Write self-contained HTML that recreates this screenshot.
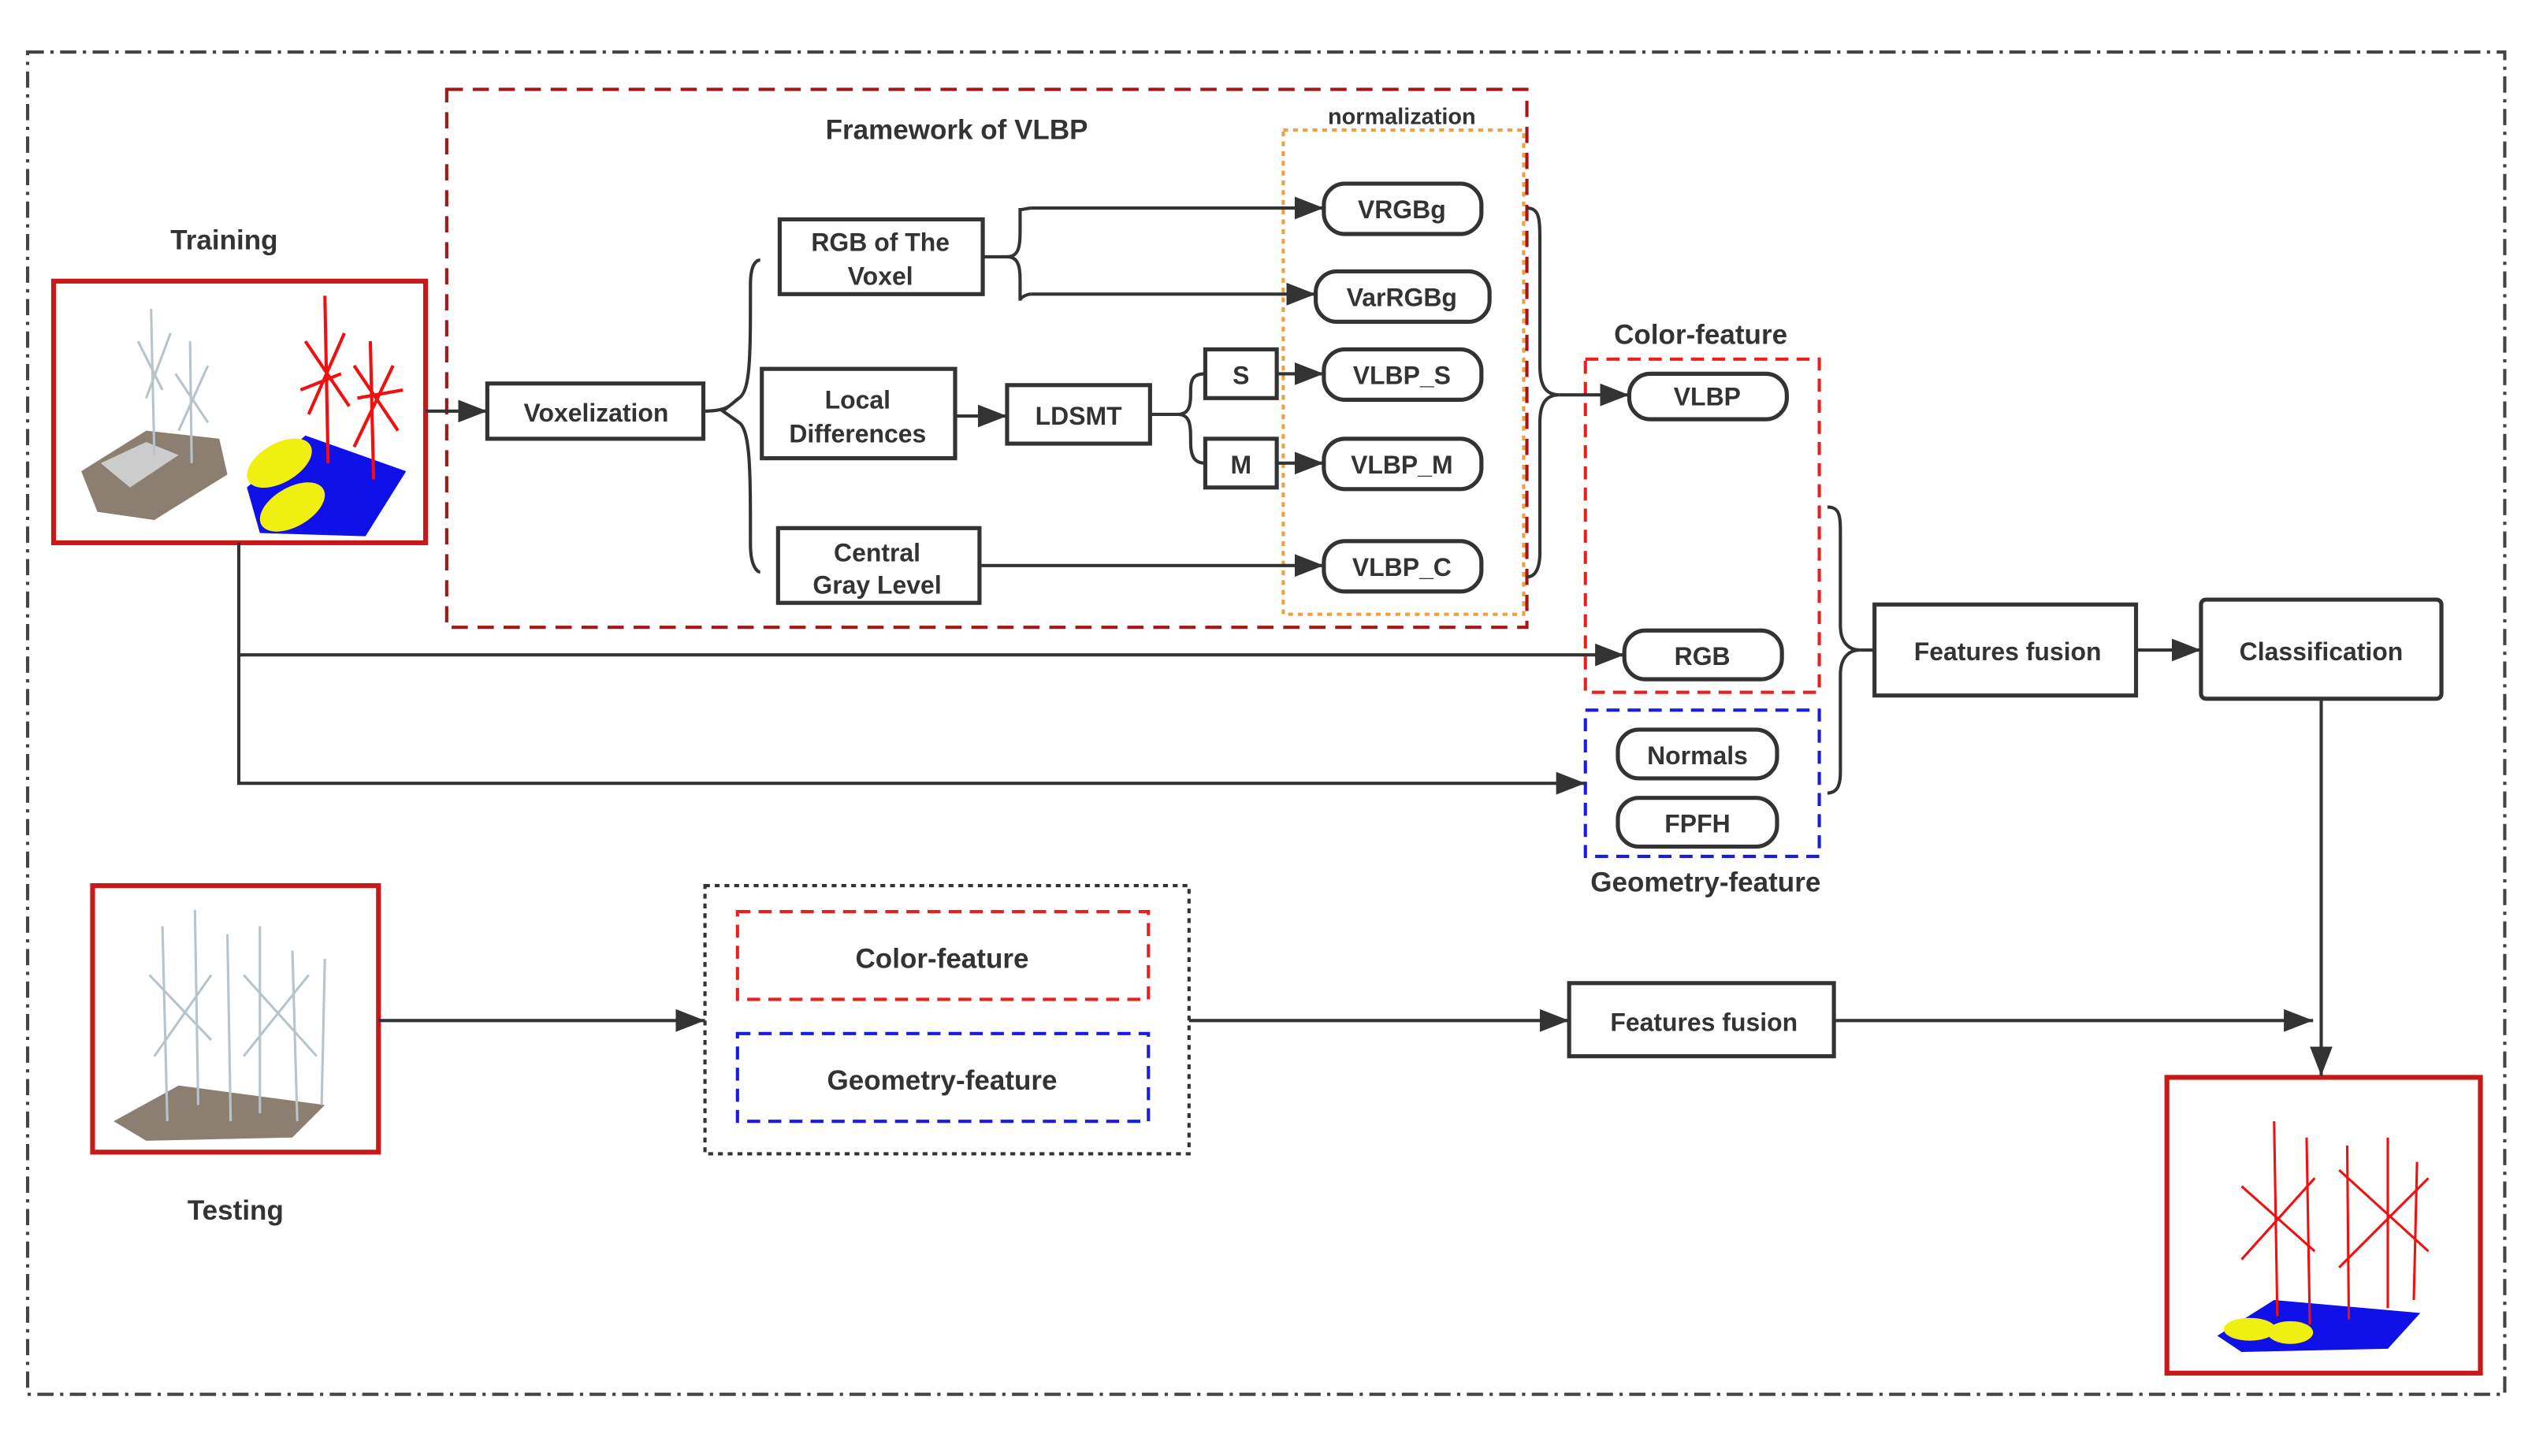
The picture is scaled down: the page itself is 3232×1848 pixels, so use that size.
<!DOCTYPE html>
<html><head><meta charset="utf-8"><style>
html,body{margin:0;padding:0;background:#fff}
svg{display:block}
text{font-family:"Liberation Sans","DejaVu Sans",sans-serif;font-weight:bold;fill:#333;text-anchor:middle;dominant-baseline:central}
</style></head><body>
<svg width="3232" height="1848" viewBox="0 0 1568 896" preserveAspectRatio="none" xmlns="http://www.w3.org/2000/svg">
<defs>
<marker id="b" markerWidth="18" markerHeight="14" refX="18" refY="7" orient="auto" markerUnits="userSpaceOnUse"><path d="M0,0 L18,7 L0,14 z" fill="#333"/></marker>
</defs>
<g fill="none" stroke-width="2">
<rect x="17" y="32" width="1525" height="826" stroke="#444" stroke-dasharray="10,4,2,4"/>
<rect x="275" y="55" width="665" height="331" stroke="#a01818" stroke-dasharray="10,6"/>
<rect x="790" y="80" width="148" height="298" stroke="#f0a040" stroke-dasharray="3,3"/>
<rect x="976" y="221" width="144" height="205" stroke="#e82020" stroke-dasharray="8,5"/>
<rect x="976" y="437" width="144" height="90" stroke="#1a1ae0" stroke-dasharray="8,5"/>
<rect x="434" y="545" width="298" height="165" stroke="#333" stroke-dasharray="3,3"/>
<rect x="454" y="561" width="253" height="54" stroke="#e82020" stroke-dasharray="8,5"/>
<rect x="454" y="636" width="253" height="54" stroke="#1a1ae0" stroke-dasharray="8,5"/>
</g>
<g fill="#fff" stroke-width="3" stroke="#c81818">
<rect x="33" y="173" width="229" height="161"/>
<rect x="57" y="545" width="176" height="164"/>
<rect x="1334" y="663" width="193" height="182"/>
</g>
<g>
<path d="M50,290 L90,265 L135,270 L140,292 L95,320 L60,315 z" fill="#8a7f70"/>
<path d="M62,285 L90,272 L110,280 L80,300 z" fill="#ccc"/>
<g stroke="#b8c4cc" stroke-width="1.5" fill="none"><path d="M93,190 L95,280 M85,210 L100,240 M105,205 L90,245 M117,210 L118,285 M108,230 L128,260 M128,225 L110,265"/></g>
<path d="M152,300 L188,268 L250,290 L225,330 L160,328 z" fill="#1010e8"/>
<ellipse cx="172" cy="285" rx="22" ry="12" fill="#f0f010" transform="rotate(-30 172 285)"/>
<ellipse cx="180" cy="312" rx="22" ry="12" fill="#f0f010" transform="rotate(-30 180 312)"/>
<g stroke="#f01010" stroke-width="2" fill="none"><path d="M200,182 L202,285 M188,210 L215,250 M212,205 L190,255 M228,210 L230,295 M218,225 L245,265 M242,225 L218,275 M185,240 L210,230 M220,245 L248,240"/></g>
<path d="M70,690 L110,668 L200,680 L180,700 L90,702 z" fill="#8a7f70"/>
<g stroke="#b8c4cc" stroke-width="1.5" fill="none"><path d="M100,570 L103,690 M120,560 L122,680 M140,575 L142,690 M160,570 L160,685 M180,585 L183,690 M200,590 L198,680 M92,600 L130,640 M130,600 L95,650 M150,600 L195,650 M190,600 L150,650"/></g>
<path d="M1365,822 L1400,800 L1490,808 L1470,830 L1380,832 z" fill="#1010e8"/>
<ellipse cx="1385" cy="818" rx="16" ry="7" fill="#f0f010"/><ellipse cx="1410" cy="820" rx="14" ry="7" fill="#f0f010"/>
<g stroke="#f01010" stroke-width="1.5" fill="none"><path d="M1400,690 L1402,810 M1420,700 L1422,815 M1445,705 L1446,812 M1470,700 L1470,805 M1488,715 L1486,800 M1380,730 L1425,770 M1425,725 L1380,775 M1440,720 L1495,770 M1495,725 L1440,780"/></g>
</g>
<g fill="#fff" stroke="#333" stroke-width="2.5">
<rect x="300" y="236" width="133" height="34"/>
<rect x="480" y="135" width="125" height="46"/>
<rect x="469" y="227" width="119" height="55"/>
<rect x="479" y="325" width="124" height="46"/>
<rect x="620" y="237" width="88" height="36"/>
<rect x="742" y="215" width="44" height="30"/>
<rect x="742" y="270" width="44" height="30"/>
<rect x="815" y="113" width="97" height="31" rx="13"/>
<rect x="810" y="167" width="107" height="31" rx="13"/>
<rect x="815" y="215" width="97" height="31" rx="13"/>
<rect x="815" y="270" width="97" height="31" rx="13"/>
<rect x="815" y="333" width="97" height="31" rx="13"/>
<rect x="1003" y="230" width="97" height="28" rx="13"/>
<rect x="1000" y="388" width="97" height="30" rx="13"/>
<rect x="996" y="449" width="98" height="30" rx="13"/>
<rect x="996" y="491" width="98" height="30" rx="13"/>
<rect x="1154" y="372" width="161" height="56"/>
<rect x="1355" y="369" width="148" height="61" rx="3"/>
<rect x="966" y="605" width="163" height="45"/>
</g>
<g fill="none" stroke="#333" stroke-width="2">
<path d="M262,253 L300,253" marker-end="url(#b)"/>
<path d="M433,253 C450,253 450,248 455,245 C462,240 462,220 462,175 C462,162 466,160 468,160 M455,260 C462,265 462,290 462,335 C462,348 466,352 468,352 M455,245 L445,253 L455,260"/>
<path d="M588,256 L620,256" marker-end="url(#b)"/>
<path d="M605,158 L620,158 C628,158 628,150 628,140 L628,128 C628,130 632,128 635,128 M620,158 C628,158 628,166 628,175 L628,185 C628,183 632,181 635,181"/>
<path d="M635,128 L815,128" marker-end="url(#b)"/>
<path d="M635,181 L810,181" marker-end="url(#b)"/>
<path d="M708,255 L725,255 C733,255 733,248 733,240 C733,232 736,230 742,230 M725,255 C733,255 733,262 733,272 C733,282 736,285 742,285"/>
<path d="M786,230 L815,230" marker-end="url(#b)"/>
<path d="M786,285 L815,285" marker-end="url(#b)"/>
<path d="M603,348 L815,348" marker-end="url(#b)"/>
<path d="M940,128 C948,128 948,135 948,150 L948,225 C948,238 952,243 960,243 C952,243 948,248 948,260 L948,340 C948,350 945,355 940,355"/>
<path d="M960,243 L1003,243" marker-end="url(#b)"/>
<path d="M1125,312 C1133,312 1133,318 1133,330 L1133,385 C1133,395 1138,400 1145,400 C1138,400 1133,405 1133,415 L1133,475 C1133,485 1130,488 1125,488"/>
<path d="M1145,400 L1154,400"/>
<path d="M1315,400 L1355,400" marker-end="url(#b)"/>
<path d="M147,334 L147,482 L976,482" marker-end="url(#b)"/>
<path d="M147,403 L1000,403" marker-end="url(#b)"/>
<path d="M1429,430 L1429,662" marker-end="url(#b)"/>
<path d="M233,628 L434,628" marker-end="url(#b)"/>
<path d="M732,628 L966,628" marker-end="url(#b)"/>
<path d="M1129,628 L1424,628" marker-end="url(#b)"/>
</g>
<g font-size="15.5">
<text x="589" y="80" font-size="17">Framework of VLBP</text>
<text x="863" y="72" font-size="14">normalization</text>
<text x="138" y="148" font-size="17">Training</text>
<text x="145" y="745" font-size="17">Testing</text>
<text x="367" y="254">Voxelization</text>
<text x="542" y="149">RGB of The</text><text x="542" y="170">Voxel</text>
<text x="528" y="246">Local</text><text x="528" y="267">Differences</text>
<text x="540" y="340">Central</text><text x="540" y="360">Gray Level</text>
<text x="664" y="256">LDSMT</text>
<text x="764" y="231">S</text>
<text x="764" y="286">M</text>
<text x="863" y="129">VRGBg</text>
<text x="863" y="183">VarRGBg</text>
<text x="863" y="231">VLBP_S</text>
<text x="863" y="286">VLBP_M</text>
<text x="863" y="349">VLBP_C</text>
<text x="1047" y="206" font-size="17">Color-feature</text>
<text x="1051" y="244">VLBP</text>
<text x="1048" y="404">RGB</text>
<text x="1045" y="465">Normals</text>
<text x="1045" y="507">FPFH</text>
<text x="1050" y="543" font-size="17">Geometry-feature</text>
<text x="1236" y="401">Features fusion</text>
<text x="1429" y="401">Classification</text>
<text x="580" y="590" font-size="17">Color-feature</text>
<text x="580" y="665" font-size="17">Geometry-feature</text>
<text x="1049" y="629">Features fusion</text>
</g>
</svg>
</body></html>
